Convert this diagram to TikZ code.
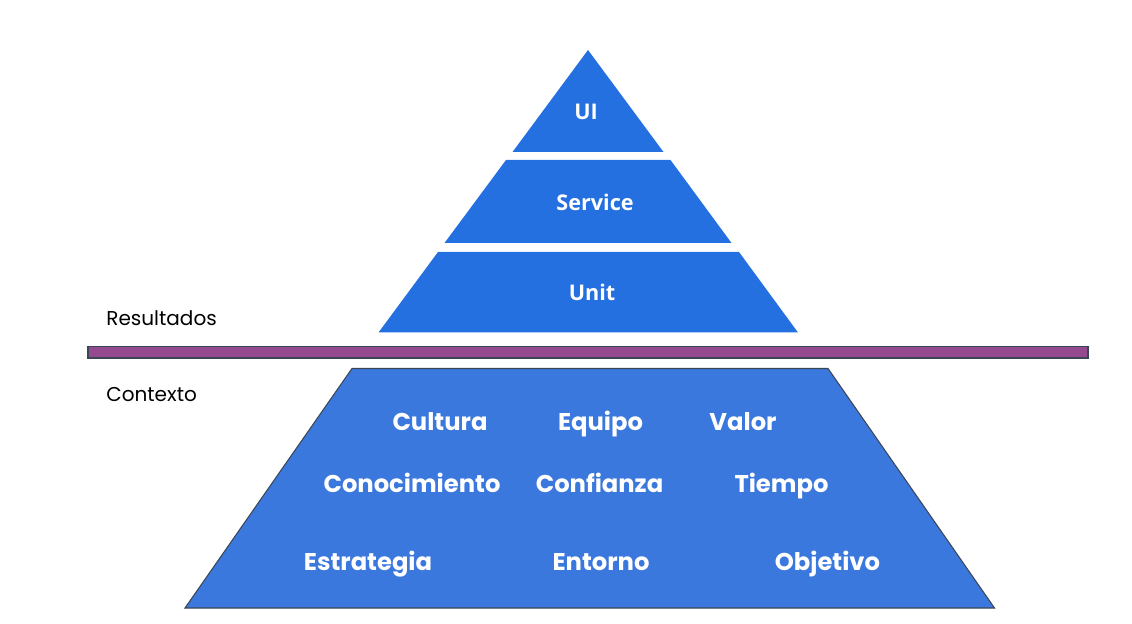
\documentclass[tikz,border=0pt]{standalone}
\usepackage{fontspec}
\setmainfont{Poppins}
\newfontfamily\opensans{Open Sans}
\usepackage{tikz}
\definecolor{pyrblue}{HTML}{2470E0}
\definecolor{ctxblue}{HTML}{3B78DE}
\definecolor{barpurple}{HTML}{934A8F}
\definecolor{edgegray}{HTML}{3A4656}

\begin{document}
\begin{tikzpicture}[x=0.02cm, y=-0.02cm,
    layer/.style={fill=pyrblue, draw=none},
    layerlabel/.style={anchor=base, inner sep=0pt, text=white, font=\opensans\bfseries\fontsize{12.3}{14}\selectfont},
    word/.style={anchor=base, inner sep=0pt, text=white, font=\bfseries\fontsize{13.8}{16}\selectfont},
    side/.style={anchor=base west, inner sep=0pt, font=\fontsize{11.4}{14}\selectfont}]
  \useasboundingbox (0,0) rectangle (1132,624);
  % pyramid of tests
  \fill[layer] (588,50) -- (663.5,152) -- (512.5,152) -- cycle;
  \fill[layer] (506,160) -- (670.5,160) -- (731.5,243) -- (444.5,243) -- cycle;
  \fill[layer] (438,252) -- (739,252) -- (798,332.5) -- (378.5,332.5) -- cycle;
  \node[layerlabel] (ui) at (586,120) {UI};
  \node[layerlabel] (service) at (595,210.5) {Service};
  \node[layerlabel] (unit) at (592,300.5) {Unit};
  % divider
  \draw[edgegray, fill=barpurple, line width=0.6pt] (88,346.5) rectangle (1088,358);
  \node[side] (resultados) at (106,325.5) {Resultados};
  \node[side] (contexto) at (106,402) {Contexto};
  % context
  \draw[edgegray, fill=ctxblue, line width=0.6pt] (352,368.5) -- (828,368.5) -- (994.5,608) -- (185,608) -- cycle;
  \node[word] (cultura) at (440,431) {Cultura};
  \node[word] (equipo) at (600.5,431) {Equipo};
  \node[word] (valor) at (743,431) {Valor};
  \node[word] (conocimiento) at (412,493) {Conocimiento};
  \node[word] (confianza) at (599.5,493) {Confianza};
  \node[word] (tiempo) at (781.5,493) {Tiempo};
  \node[word] (estrategia) at (368,570) {Estrategia};
  \node[word] (entorno) at (601,570) {Entorno};
  \node[word] (objetivo) at (827.5,570) {Objetivo};
\end{tikzpicture}
\end{document}
